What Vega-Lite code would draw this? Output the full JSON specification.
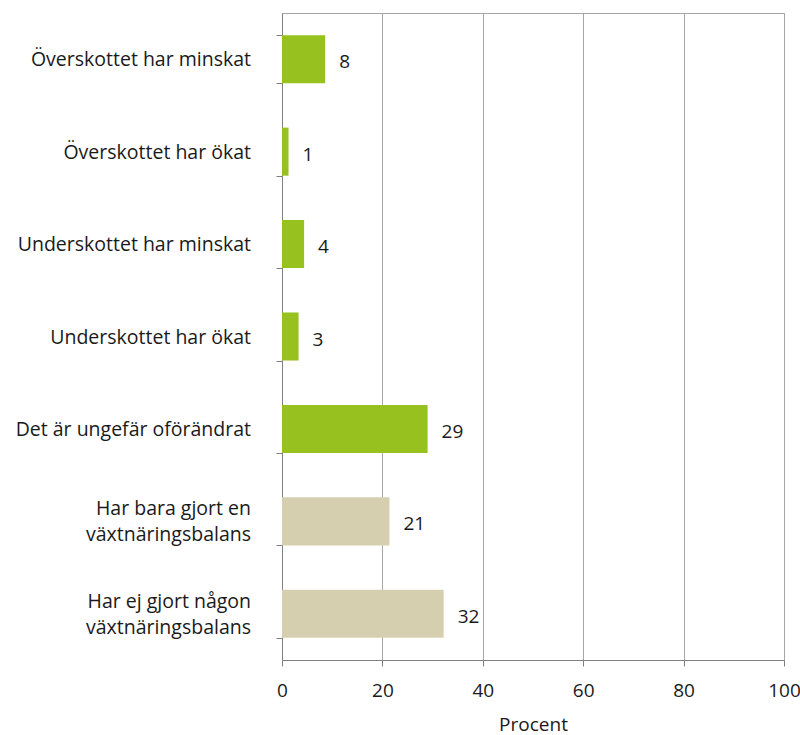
{
  "$schema": "https://vega.github.io/schema/vega-lite/v6.json",
  "autosize": {"type": "none"},
  "width": 502,
  "height": 647,
  "padding": {"left": 282, "top": 13, "right": 16, "bottom": 75},
  "background": "white",
  "config": {
    "view": {"stroke": "#a6a6a6", "strokeWidth": 1},
    "font": "Open Sans"
  },
  "data": {
    "values": [
      {"kategori": "Överskottet har minskat", "namn": ["Överskottet har minskat"], "varde": 8.6, "etikett": "8", "grupp": "a"},
      {"kategori": "Överskottet har ökat", "namn": ["Överskottet har ökat"], "varde": 1.3, "etikett": "1", "grupp": "a"},
      {"kategori": "Underskottet har minskat", "namn": ["Underskottet har minskat"], "varde": 4.4, "etikett": "4", "grupp": "a"},
      {"kategori": "Underskottet har ökat", "namn": ["Underskottet har ökat"], "varde": 3.3, "etikett": "3", "grupp": "a"},
      {"kategori": "Det är ungefär oförändrat", "namn": ["Det är ungefär oförändrat"], "varde": 29, "etikett": "29", "grupp": "a"},
      {"kategori": "Har bara gjort en växtnäringsbalans", "namn": ["Har bara gjort en", "växtnäringsbalans"], "varde": 21.4, "etikett": "21", "grupp": "b"},
      {"kategori": "Har ej gjort någon växtnäringsbalans", "namn": ["Har ej gjort någon", "växtnäringsbalans"], "varde": 32.2, "etikett": "32", "grupp": "b"}
    ]
  },
  "encoding": {
    "y": {
      "field": "kategori",
      "type": "nominal",
      "sort": null,
      "scale": {"paddingInner": 0.48, "paddingOuter": 0.24},
      "axis": {
        "title": null,
        "labels": false,
        "tickBand": "extent",
        "tickSize": 6,
        "tickColor": "#808080",
        "domainColor": "#808080",
        "grid": false
      }
    }
  },
  "layer": [
    {
      "mark": {"type": "bar"},
      "encoding": {
        "x": {
          "field": "varde",
          "type": "quantitative",
          "scale": {"domain": [0, 100], "nice": false},
          "axis": {
            "title": "Procent",
            "titleFontSize": 19,
            "titleFontWeight": "normal",
            "titleColor": "#1a1a1a",
            "titlePadding": 15,
            "values": [0, 20, 40, 60, 80, 100],
            "labelFontSize": 19,
            "labelColor": "#1a1a1a",
            "labelPadding": 15,
            "tickSize": 6,
            "tickColor": "#808080",
            "domainColor": "#808080",
            "grid": true,
            "gridColor": "#a6a6a6",
            "labelFlush": false
          }
        },
        "color": {
          "field": "grupp",
          "type": "nominal",
          "scale": {"domain": ["a", "b"], "range": ["#97c11f", "#d6cfaf"]},
          "legend": null
        }
      }
    },
    {
      "mark": {"type": "text", "align": "left", "baseline": "middle", "dx": 14, "dy": 3, "fontSize": 19, "color": "#1a1a1a"},
      "encoding": {
        "x": {"field": "varde", "type": "quantitative"},
        "text": {"field": "etikett"}
      }
    },
    {
      "transform": [{"filter": "length(datum.namn) == 1"}],
      "mark": {"type": "text", "align": "right", "baseline": "middle", "dx": -31, "dy": 1, "fontSize": 19.5, "color": "#1a1a1a"},
      "encoding": {
        "x": {"datum": 0, "type": "quantitative"},
        "text": {"field": "namn"}
      }
    },
    {
      "transform": [{"filter": "length(datum.namn) > 1"}],
      "mark": {"type": "text", "align": "right", "baseline": "line-bottom", "lineHeight": 26, "dx": -31, "dy": 1, "fontSize": 19.5, "color": "#1a1a1a"},
      "encoding": {
        "x": {"datum": 0, "type": "quantitative"},
        "text": {"field": "namn"}
      }
    }
  ]
}
